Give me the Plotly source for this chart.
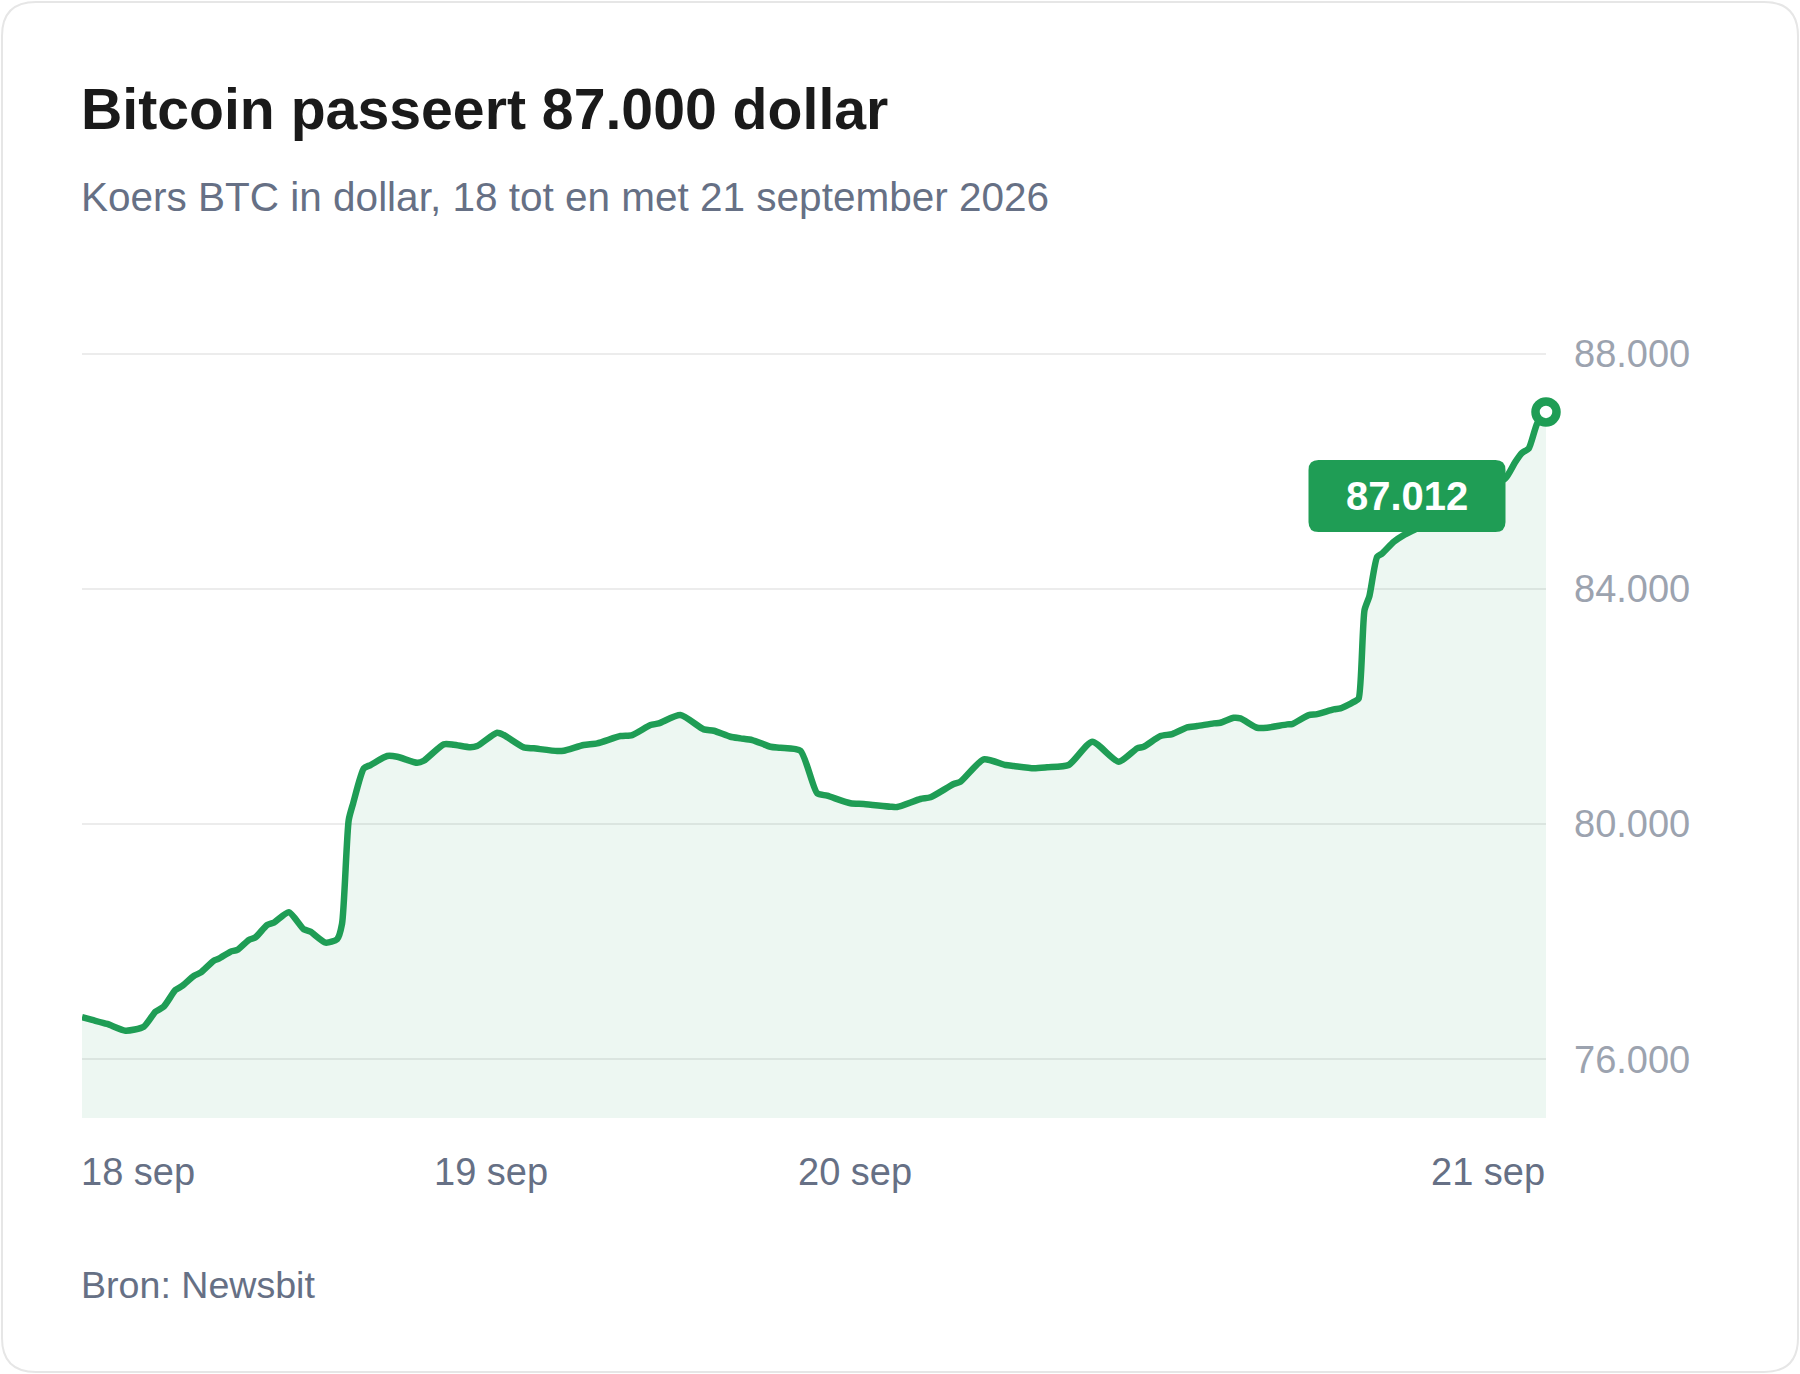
import plotly.graph_objects as go

# BTC koers, uren vanaf begin van 18 sep
hours = [0.0, 0.67, 1.65, 2.85, 4.05, 4.82, 5.36, 6.13, 6.57, 7.33, 7.77, 8.64, 8.97, 9.74,
         10.18, 10.94, 11.38, 12.14, 12.58, 13.56, 14.54, 14.98, 15.97, 16.73, 17.05, 17.49,
         17.78, 18.48, 18.92, 20.01, 20.67, 21.98, 22.41, 23.72, 24.38, 25.47, 25.91, 27.22,
         27.66, 28.97, 29.62, 31.16, 31.59, 32.9, 33.78, 35.31, 36.08, 37.28, 37.82, 39.24,
         40.77, 41.43, 42.52, 43.18, 43.95, 45.15, 45.8, 47.11, 48.21, 48.86, 50.39, 51.26,
         53.01, 53.45, 54.98, 55.64, 57.16, 57.6, 59.13, 60.56, 61.1, 62.41, 63.29, 64.7,
         66.24, 67.98, 69.19, 69.62, 70.72, 71.49, 72.47, 73.13, 74.21, 74.65, 75.52, 75.96,
         77.06, 77.71, 79.03, 79.35, 80.44, 80.99, 82.08, 82.52, 83.5, 83.72, 84.1, 84.42,
         84.93, 85.26, 86.02, 86.67, 87.33, 89.08, 91.05, 93.33, 93.99, 94.43, 94.87, 95.42,
         96.0]
prices = [76714, 76668, 76600, 76486, 76554, 76809, 76894, 77178, 77246, 77416, 77473, 77677,
          77711, 77830, 77859, 78029, 78075, 78284, 78323, 78500, 78211, 78170, 77983, 78041,
          78301, 80070, 80354, 80949, 81005, 81158, 81146, 81044, 81078, 81357, 81350, 81306,
          81328, 81554, 81515, 81306, 81289, 81243, 81248, 81345, 81374, 81498, 81515, 81685,
          81714, 81855, 81612, 81588, 81486, 81459, 81430, 81316, 81299, 81248, 80524, 80483,
          80354, 80342, 80296, 80290, 80427, 80456, 80682, 80721, 81102, 81005, 80988, 80949,
          80966, 81005, 81401, 81061, 81289, 81316, 81498, 81532, 81646, 81668, 81714, 81724,
          81809, 81799, 81639, 81640, 81697, 81702, 81855, 81872, 81952, 81969, 82093, 82139,
          83640, 83880, 84548, 84605, 84803, 84917, 85002, 85257, 85563, 85881, 86163, 86316,
          86391, 86816, 87012]

x_tick_hours = [0, 26.8, 50.7, 96]
x_tick_labels = ['18 sep', '19 sep', '20 sep', '21 sep']
y_ticks = [76000, 80000, 84000, 88000]

W, H = 1800, 1374
ML, MR, MT, MB = 82, 254, 348, 256
PW, PH = W - ML - MR, H - MT - MB

GREEN = '#1f9d55'
FONT = 'Liberation Sans, Arial, sans-serif'


def px(x, y):
    # pixel -> paper coords
    return (x - ML) / PW, (H - MB - y) / PH


def rounded_path(x0, y0, x1, y1, r, conv=None):
    pts = [(x0 + r, y0), (x1 - r, y0), (x1, y0), (x1, y0 + r), (x1, y1 - r), (x1, y1),
           (x1 - r, y1), (x0 + r, y1), (x0, y1), (x0, y1 - r), (x0, y0 + r), (x0, y0)]
    if conv:
        pts = [conv(*p) for p in pts]
    f = lambda p: f'{p[0]:.5f},{p[1]:.5f}'
    return (f'M{f(pts[0])} L{f(pts[1])} Q{f(pts[2])} {f(pts[3])} L{f(pts[4])} '
            f'Q{f(pts[5])} {f(pts[6])} L{f(pts[7])} Q{f(pts[8])} {f(pts[9])} '
            f'L{f(pts[10])} Q{f(pts[11])} {f(pts[0])} Z')


fig = go.Figure()

fig.add_trace(go.Scatter(
    x=hours, y=prices, mode='lines',
    line=dict(color=GREEN, width=6.5, shape='spline', smoothing=0.6),
    fill='tozeroy', fillcolor='rgba(31,157,85,0.08)',
    hoverinfo='skip',
))
fig.add_trace(go.Scatter(
    x=[hours[-1]], y=[prices[-1]], mode='markers',
    marker=dict(size=21, color='white', line=dict(color=GREEN, width=8.5)),
    cliponaxis=False, hoverinfo='skip',
))

shapes = [
    # card border
    dict(type='path', xref='paper', yref='paper',
         path=rounded_path(2, 2, W - 2, H - 2, 34, conv=px),
         line=dict(color='#e6e6e6', width=2), fillcolor='rgba(0,0,0,0)', layer='below'),
    # value label box
    dict(type='path', xsizemode='pixel', ysizemode='pixel',
         xanchor=hours[-1], yanchor=prices[-1], xref='x', yref='y',
         path=rounded_path(-237.5, -120, -40.5, -48, 10),
         line=dict(width=0), fillcolor=GREEN, layer='above'),
]

TOP = H - MB - PH  # pixel y of plot top
annotations = [
    dict(text='<b>Bitcoin passeert 87.000 dollar</b>', xref='paper', yref='paper',
         x=0, y=1, xanchor='left', yanchor='middle', xshift=-3, yshift=TOP - 109,
         showarrow=False, font=dict(family=FONT, size=57.2, color='#1a1a1a')),
    dict(text='Koers BTC in dollar, 18 tot en met 21 september 2026', xref='paper', yref='paper',
         x=0, y=1, xanchor='left', yanchor='middle', xshift=-3, yshift=TOP - 197,
         showarrow=False, font=dict(family=FONT, size=40.5, color='#667085')),
    dict(text='Bron: Newsbit', xref='paper', yref='paper',
         x=0, y=0, xanchor='left', yanchor='middle', xshift=-3, yshift=-167, showarrow=False,
         font=dict(family=FONT, size=37.6, color='#667085')),
    dict(text='<b>' + f'{prices[-1]:,}'.replace(',', '.') + '</b>', xref='x', yref='y',
         x=hours[-1], y=prices[-1], xshift=-139, yshift=-84, showarrow=False,
         xanchor='center', yanchor='middle',
         font=dict(family=FONT, size=40, color='white')),
]
anchors = ['left', 'center', 'center', 'right']
shifts = [-3, 0, 0, 1]
for h, lab, a, s in zip(x_tick_hours, x_tick_labels, anchors, shifts):
    annotations.append(dict(text=lab, xref='x', yref='paper', x=h, y=0,
                            xanchor=a, yanchor='middle', xshift=s, yshift=-54, showarrow=False,
                            font=dict(family=FONT, size=38, color='#667085')))

fig.update_layout(
    width=W, height=H,
    margin=dict(l=ML, r=MR, t=MT, b=MB),
    paper_bgcolor='white', plot_bgcolor='white',
    showlegend=False,
    separators=',.',
    shapes=shapes,
    annotations=annotations,
    xaxis=dict(range=[0, 96], showgrid=False, zeroline=False, showticklabels=False,
               showline=False, ticks=''),
    yaxis=dict(range=[75000, 88100], side='right', tickvals=y_ticks, tickformat=',d',
               showgrid=True, gridcolor='#ececec', gridwidth=2, zeroline=False,
               showline=False, ticks='', ticklabelstandoff=27,
               tickfont=dict(family=FONT, size=38, color='#9ca3af')),
)

# page has a default body margin; drop it so the figure sits at 0,0
fig.write_html('out.html', config={'displayModeBar': False},
               post_script="document.body.style.margin='0';")
